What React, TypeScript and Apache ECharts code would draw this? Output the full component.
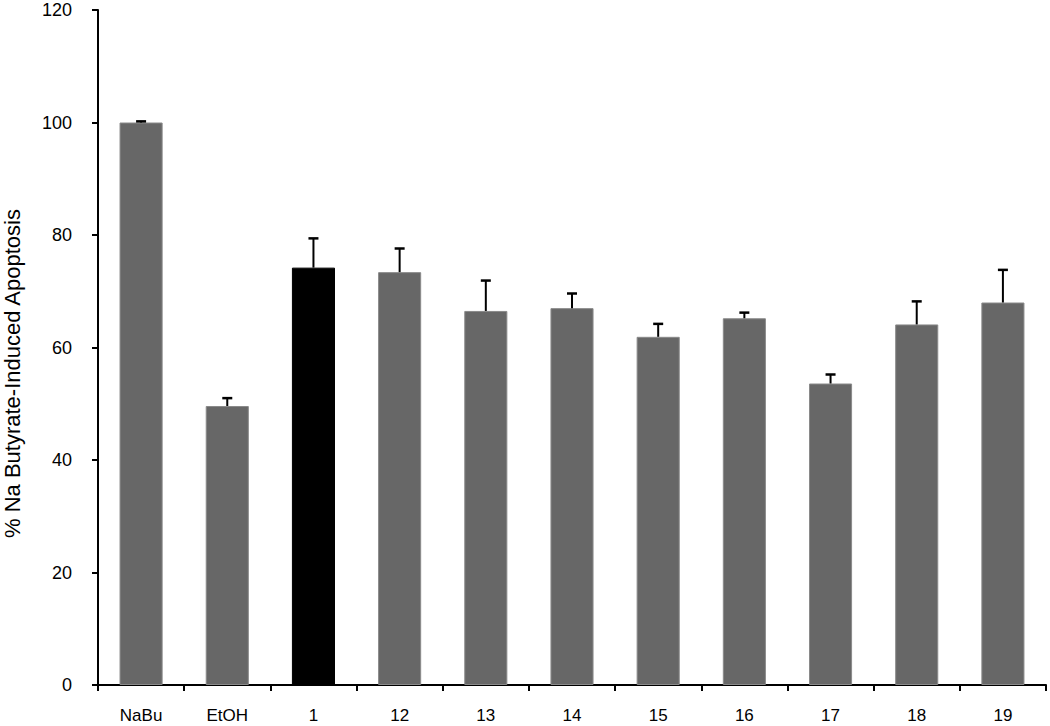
import React, { useEffect, useRef } from "react";
import * as echarts from "echarts";

const categories = ["NaBu", "EtOH", "1", "12", "13", "14", "15", "16", "17", "18", "19"];
const means = [100, 49.6, 74.2, 73.4, 66.5, 67.0, 61.9, 65.2, 53.6, 64.1, 68.0];
const upperErr = [0.2, 1.4, 5.2, 4.2, 5.4, 2.6, 2.3, 1.0, 1.6, 4.1, 5.8];
const highlightIndex = 2;
const yTicks = [0, 20, 40, 60, 80, 100, 120];

export default function App() {
  const ref = useRef<HTMLDivElement>(null);
  useEffect(() => {
    if (!ref.current) return;
    const chart = echarts.init(ref.current, undefined, { renderer: "svg" });
    const font = "'Liberation Sans', Arial, sans-serif";
    chart.setOption({
      animation: false,
      backgroundColor: "#ffffff",
      grid: { left: 98, right: 4, top: 10, bottom: 41, containLabel: false, outerBoundsMode: "none" },
      xAxis: {
        type: "category",
        data: categories,
        axisLine: { lineStyle: { color: "#000", width: 2 } },
        axisTick: { show: true, length: 6, lineStyle: { color: "#000", width: 2 }, alignWithLabel: false },
        axisLabel: { color: "#000", fontSize: 17, lineHeight: 19, fontFamily: font, margin: 21 },
      },
      yAxis: {
        type: "value",
        min: yTicks[0],
        max: yTicks[yTicks.length - 1],
        interval: 20,
        name: "% Na Butyrate-Induced Apoptosis",
        nameLocation: "middle",
        nameGap: 75,
        nameTextStyle: { color: "#000", fontSize: 22, fontFamily: font, padding: [0, 52, 0, 0] },
        axisLine: { show: true, lineStyle: { color: "#000", width: 2 } },
        axisTick: { show: true, length: 6, lineStyle: { color: "#000", width: 2 } },
        axisLabel: { color: "#000", fontSize: 18, fontFamily: font, margin: 26 },
        splitLine: { show: false },
      },
      series: [
        {
          type: "bar",
          barWidth: "50%",
          data: means.map((v, i) => ({
            value: v,
            itemStyle: {
              color: i === highlightIndex ? "#000000" : "#676767",
              borderColor: i === highlightIndex ? "#000000" : "#8a8a8a",
              borderWidth: 1,
            },
          })),
          z: 2,
        },
        {
          type: "custom",
          z: 3,
          data: means.map((v, i) => [i, v, v + upperErr[i]]),
          renderItem: (params: any, api: any) => {
            const x = api.value(0);
            const lo = api.coord([x, api.value(1)]);
            const hi = api.coord([x, api.value(2)]);
            const half = 5;
            return {
              type: "group",
              children: [
                {
                  type: "line",
                  shape: { x1: lo[0], y1: lo[1], x2: hi[0], y2: hi[1] },
                  style: { stroke: "#000", lineWidth: 2 },
                },
                {
                  type: "line",
                  shape: { x1: hi[0] - half, y1: hi[1], x2: hi[0] + half, y2: hi[1] },
                  style: { stroke: "#000", lineWidth: 2.5 },
                },
              ],
            };
          },
        },
      ],
    });
    return () => chart.dispose();
  }, []);
  return (
    <div
      ref={ref}
      style={{ position: "absolute", left: 0, top: 0, width: 1050, height: 726, background: "#fff" }}
    />
  );
}
